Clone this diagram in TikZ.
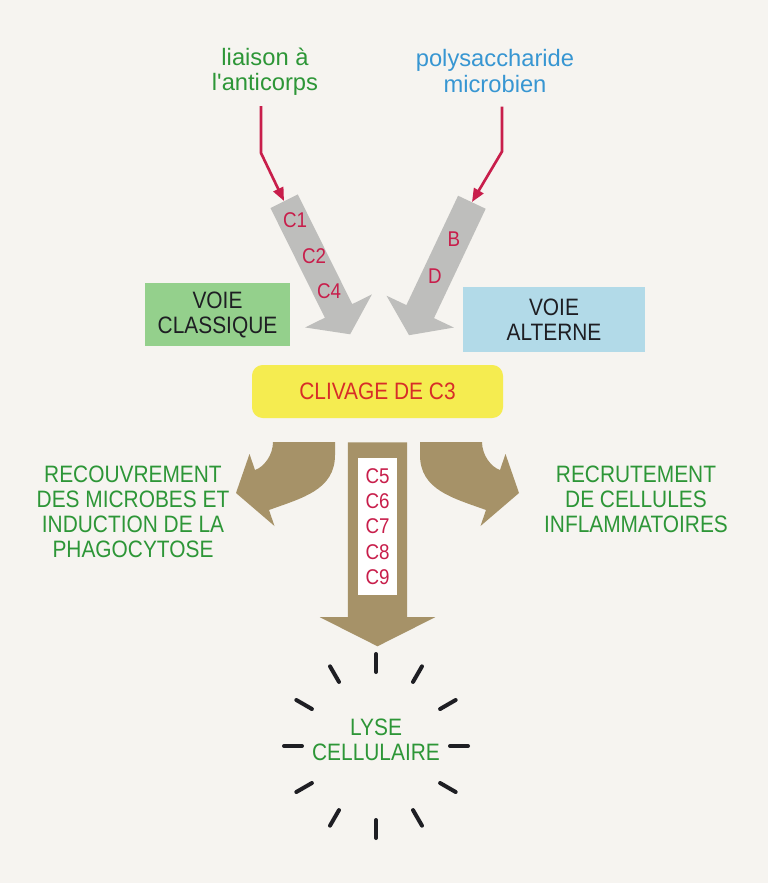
\documentclass[tikz,border=0pt]{standalone}
\usepackage{fontspec}
\setmainfont{Liberation Sans}[FakeStretch=0.88]
\newfontfamily\minfont{Liberation Sans}
\usepackage{tikz}
\usetikzlibrary{arrows.meta,calc,shapes.arrows}
\definecolor{fond}{RGB}{246,244,240}
\definecolor{vert}{RGB}{45,150,55}
\definecolor{bleu}{RGB}{55,150,210}
\definecolor{rose}{RGB}{200,30,75}
\definecolor{rouge}{RGB}{215,45,40}
\definecolor{encre}{RGB}{30,30,35}
\definecolor{vertclair}{RGB}{148,208,140}
\definecolor{bleuclair}{RGB}{178,218,232}
\definecolor{jaune}{RGB}{245,236,80}
\definecolor{gris}{RGB}{190,190,188}
\definecolor{brun}{RGB}{166,146,104}
\newcommand\grand{\fontsize{17.8}{18.8}\selectfont}
\newcommand\moyen{\fontsize{16}{19}\selectfont}
\tikzset{
  voie/.style={rectangle, align=center, inner sep=0pt, font=\grand, text=encre},
  titre/.style={align=center, inner sep=0pt, font=\grand, text=vert},
  amorce/.style={align=center, inner sep=0pt, font=\minfont\grand},
  comp/.style={inner sep=0pt, font=\moyen, text=rose},
  grisarr/.style={single arrow, fill=gris, inner xsep=0pt, inner ysep=11.25pt, single arrow head extend=16.5pt, single arrow tip angle=110},
  brunarr/.style={single arrow, fill=brun, inner xsep=0pt, inner ysep=22.1pt, single arrow head extend=21pt, single arrow tip angle=126.5},
  rosearr/.style={-{Triangle[length=10pt,width=8pt]}, line width=2pt, draw=rose},
  rayon/.style={line width=3pt, line cap=round, draw=encre},
}
\begin{document}
\begin{tikzpicture}[x=0.75pt, y=-0.75pt]
\fill[fond] (0,0) rectangle (768,883);
\useasboundingbox (0,0) rectangle (768,883);
\node[amorce, text=vert] (lia) at (265,72) {liaison à\\l'anticorps};
\node[amorce, text=bleu] (pol) at (495,71) {polysaccharide\\microbien};
\node[grisarr, minimum height=111.4pt, rotate=-63.6, anchor=tail] (cla) at (284,201) {};
\node[grisarr, minimum height=110.3pt, rotate=-115.3, anchor=tail] (alt) at (472,202) {};
\draw[rosearr] ($(lia.south)+(-4,10)$) -- ++(0,47) -- (cla.tail);
\draw[rosearr] ($(pol.south)+(7,14)$) -- ++(0,45) -- (alt.tail);
\node[comp] (c1) at (295,220) {C1};
\node[comp] (c2) at (314,256) {C2};
\node[comp] (c4) at (329,291) {C4};
\node[comp] (fb) at (454,239) {B};
\node[comp] (fd) at (435,276) {D};
\node[voie, fill=vertclair, minimum width=108.75pt, minimum height=47.25pt] (vcl) at (217.5,314.5) {VOIE\\CLASSIQUE};
\node[voie, fill=bleuclair, minimum width=136.5pt, minimum height=48.75pt] (val) at (554,319.5) {VOIE\\ALTERNE};
\node[voie, fill=jaune, rounded corners=8pt, minimum width=188.25pt, minimum height=39.75pt, text=rouge] (clv) at (377.5,391.5) {CLIVAGE DE C3};
\node[brunarr, minimum height=153pt, rotate=-90, anchor=tail] (mac) at (377.5,442) {};
\node[fill=white, inner sep=0pt, minimum width=29.25pt, minimum height=102.75pt, align=center, font=\moyen, text=rose] (cmac) at (377.5,526.5) {C5\\C6\\C7\\C8\\C9};
\foreach \s in {1,-1}
  \fill[brun, shift={(377.5,0)}, xscale=\s] (-104.5,442) -- (-42.5,442) -- (-42.5,455)
    .. controls (-42.5,490) and (-75.5,498) .. (-108.5,510) -- (-103,526) -- (-141.5,493)
    -- (-128,454) -- (-122.5,470) .. controls (-113.5,467) and (-104.5,455) .. (-104.5,442) -- cycle;
\node[titre] (rec) at (133,511.5) {RECOUVREMENT\\DES MICROBES ET\\INDUCTION DE LA\\PHAGOCYTOSE};
\node[titre] (rcr) at (636,499) {RECRUTEMENT\\DE CELLULES\\INFLAMMATOIRES};
\node[titre] (lys) at (376,740) {LYSE\\CELLULAIRE};
\coordinate (lysc) at (376,746);
\foreach \a in {0,30,...,330}
  \draw[rayon] ($(lysc)+(\a:74)$) -- ($(lysc)+(\a:92)$);
\end{tikzpicture}
\end{document}
